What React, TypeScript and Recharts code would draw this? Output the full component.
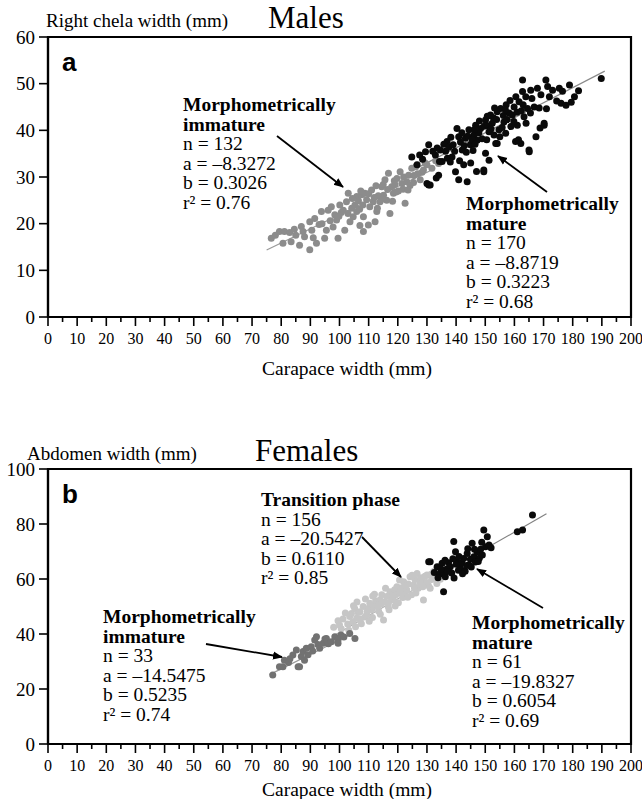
import React from 'react';
import { ScatterChart, Scatter, XAxis, YAxis, ReferenceLine, ReferenceArea } from 'recharts';

// ---------- DATA ----------
const xTicks = [0,5,10,15,20,25,30,35,40,45,50,55,60,65,70,75,80,85,90,95,100,105,110,115,120,125,130,135,140,145,150,155,160,165,170,175,180,185,190,195,200];
const maleYTicks = [0,10,20,30,40,50,60];
const femaleYTicks = [0,20,40,60,80,100];

// Males — morphometrically immature (carapace width, right chela width)
const maleImmature: [number, number][] = [
  [76.6,16.9],[78,17.5],[79.4,18.3],[81.1,18.3],[82.9,18.1],[80.6,15.8],[83.4,16.1],[84.5,18.8],[86.3,15.4],[86.9,19.4],
  [88,17.2],[89.8,14.4],[89.8,20.4],[90.5,18.6],[91.5,21.1],[92.1,15.8],[93,19.8],[93.8,22.6],[94.9,16.9],[95.5,18.6],
  [96.1,22.9],[96.8,20.6],[97.2,23.6],[98.4,21.9],[99,20.8],[99.5,16.9],[100.1,24],[100.6,22.4],[101.3,22.9],[101.8,18.6],
  [102.4,24.7],[103,26.5],[103.6,20.4],[104.2,23.3],[104.7,21.5],[105.3,24],[105.9,22.6],[105.9,25.8],[106.5,24.9],[107,19.6],
  [107.6,26.2],[108.2,18.3],[108.2,21.5],[108.7,26.5],[109.3,25.1],[109.9,19.7],[110.4,23.6],[111,27.2],[111.6,24.7],[112.2,20.4],
  [112.8,22.6],[113.3,26],[113.9,24.7],[114.5,27.9],[115.1,26.1],[115.6,29.4],[116.2,25],[116.8,30.8],[117.3,22.2],[117.9,27.9],
  [118.5,26.5],[119,28.4],[119.7,29.7],[120.2,27],[120.8,31.1],[121.4,28.6],[122,30],[122.5,24.4],[123.1,29],[123.7,30.4],
  [124.2,28.2],[124.8,31.9],[125.5,30.3],[126.2,32.2],[127.7,29.4],[128.3,31],[128.8,31.5],[129.4,33],[130,32.6],[131.7,31.9],
  [133,33.5],[134,32.9],[85,17.5],[87.5,18.3],[91,17],[94,20],[97.8,19.3],[99.8,21.6],[102.9,22.2],[104.4,25.4],
  [106.9,23.1],[108,24],[110,26.4],[111.9,25.6],[113,23.3],[114.9,25.3],[116.5,27.3],[118.2,24.8],[119.4,26.8],[121.8,27.4],
  [123.5,27.2],[125.4,28.8],[126.8,30.7],[118.8,29.2],[115,28.4],[112.5,28.1],[107.3,27],
];

// Males — morphometrically mature
const maleMature: [number, number][] = [
  [124.8,34.3],[126.6,32.6],[130.6,28.3],[134,30.4],[130.6,36.9],[130,28.6],[132.9,34.7],[134.6,35.8],[135.2,33.3],[136.9,37.6],
  [138.6,34.3],[139.8,31.1],[140.3,40.4],[140.9,38.6],[140.9,29.4],[142.1,35.8],[142.6,32.6],[143.2,38.3],[143.8,29],[144.4,40.1],
  [144.9,36.9],[146.1,39],[146.7,41.1],[147.2,37.9],[148.4,40.4],[149.5,31.1],[150.1,35.1],[150.1,42.2],[151.3,39.7],[151.8,43.3],
  [152.4,41.5],[153.6,37.2],[154.1,44],[154.7,40.1],[155.3,44.7],[156.4,41.8],[157,39.4],[158.2,43.7],[159.3,43.3],[159.9,45],
  [160.4,37.6],[161,41.1],[161.6,46.1],[162.2,37.2],[162.8,50.8],[162.8,48.3],[163.3,42.9],[163.9,47.2],[164.5,44.7],[165.1,35.4],
  [165.6,48.6],[166.8,45],[167.4,38.6],[167.9,49],[169.1,47.6],[170.2,41.1],[170.8,50.8],[171.4,49.4],[172,47.2],[173.1,48.6],
  [175.4,49],[176,45.8],[177.7,45.4],[178.9,49.7],[180.6,47.2],[189.8,51.1],[131.1,28.3],[149.5,31.5],[151.3,33.6],[154.1,37.2],
  [161.4,38],[165,35.8],[170.2,41.5],[133.5,36.2],[135.8,37],[136.4,35.5],[137.5,36.4],[138.2,38.5],[139,36.9],[139.5,35.5],
  [141.5,37.5],[142,39.5],[142.8,36.7],[143.5,35.3],[144,38.8],[145.5,38],[145.8,35.7],[146.5,37],[147.8,39.5],[148,42],
  [148.9,38.2],[149.6,40.9],[150.5,38],[151,41],[152,40.3],[152.8,42.7],[153,39],[153.9,42.3],[155.8,40.6],[156.2,43.2],
  [157.5,42.3],[158.8,40.8],[159.8,41.9],[160.9,43.9],[162.4,44.2],[163,45.5],[164,41.5],[165.5,43.7],[166,46.8],[168.5,44.8],
  [157.2,45.5],[155,38.6],[137,34],[134.3,33.3],[132,35.5],[128.5,33.8],[129.5,35.4],[127.5,34.7],[146.3,40.2],[150.7,43],
  [153.2,44.8],[156.9,44.4],[160.5,47.2],[158.5,46.4],[174.5,46.3],[171,44.6],[176.5,48.4],[182,48.5],[179.5,46],[168.8,40.5],
  [141.2,33.5],[145,33],[147,31.2],[138,33.2],[133.2,29.8],
];

// Females — morphometrically immature (carapace width, abdomen width)
const femaleImmature: [number, number][] = [
  [77.1,25.1],[79.4,28.1],[80.6,28.1],[81.1,30.5],[82.5,29.6],[84,32.4],[85.2,34.2],[85.8,28.1],[86.9,31.8],[87.5,33.6],
  [88.6,34.8],[89.2,32.5],[90.3,35.4],[91.5,37.8],[92.1,39],[92.6,36.2],[93.2,34.8],[94.4,36.6],[95,38.2],[95.5,38.4],
  [96.2,36.5],[97.2,37.2],[98.4,39],[99.5,37.8],[99.5,36.6],[100.5,39.6],[101.5,38.9],[103.5,40.2],[105.3,38.4],[83,31],
  [88,30.5],[90.8,33.8],[86.3,28.1],
];

// Females — transition phase
const femaleTransition: [number, number][] = [
  [98,42.5],[99.5,44.8],[100.6,41.9],[101.2,45.5],[102,47.6],[102.8,43.6],[103.5,46.4],[104.1,47.5],[104.6,44.5],[105.2,49.3],
  [105.9,45.7],[106.4,47.8],[107,48.1],[107.5,43.7],[108.1,50],[108.7,46.2],[109.3,46.9],[109.8,49.3],[110.4,51.2],[111,48.7],
  [111.3,46],[111.9,50.3],[112.4,52.1],[112.8,50.5],[113.4,48.4],[113.9,52.4],[114.5,54.3],[115.1,45.1],[115.5,51.6],[116.2,53.6],
  [116.7,50],[117.3,55.4],[117.8,52.9],[118.5,52.4],[118.9,56.1],[119.3,54.3],[119.7,57.2],[120.2,51.4],[120.8,54.8],[121.3,56.8],
  [122,59],[122.4,55.2],[123.1,56],[123.6,58.2],[124.2,60.8],[124.7,54.3],[125.4,57.8],[125.9,59.8],[126.6,62],[127,56.6],
  [127.6,58.7],[128.3,59.6],[128.8,52.4],[129.3,61],[130,61.5],[130.5,57.6],[131.1,56.6],[131.6,59.8],[132.3,62.7],[132.8,60.6],
  [133.4,58.4],[134,61.2],[110.2,44.6],[114,47.2],[117,48.8],[121.7,53.3],[119.1,50.2],[123.4,53.4],[126.2,54.9],[106,51.6],
  [108.9,52.7],[112,54.5],[115.8,56.6],[120.6,59.6],[124.9,61.4],[103.2,41.4],[100,43.3],[105.5,42.6],[113.1,49.9],[116.8,51.3],
  [118.1,53.7],[122.6,57.4],[127.9,60.5],[129.9,58.7],[131.4,61.7],[121,55.9],[114.3,50.9],[109.5,48.3],[107.2,45.5],[111.4,53.8],
  [104.8,50.3],[125.7,56.7],[128.6,57.2],[133.1,63.3],[134.6,59.9],
];

// Females — morphometrically mature
const femaleMature: [number, number][] = [
  [130.6,66.3],[131.1,66.3],[132.5,62.4],[133.5,64.5],[134.3,61.8],[135.2,65.7],[135.7,62],[135.7,55.4],[136.3,60.8],[136.8,63.6],
  [137.4,65.9],[138,64.5],[138.5,62.2],[139.2,73.6],[139.3,60.4],[139.8,69.9],[140.3,66.3],[140.8,63.2],[141.5,63.9],[141.9,65.9],
  [142.6,67.5],[143.1,62.8],[143.8,69.3],[144.4,65.1],[144.9,67.2],[145.5,73],[146.1,68.1],[146.6,66.2],[147.2,69.9],[148,67.6],
  [149,68.7],[149.5,77.8],[150.1,71.7],[150.7,75.4],[151.3,72.4],[152,71.4],[161,77.2],[162.8,77.8],[166.2,83.3],[137,62.7],
  [140,65.4],[142.2,61.9],[146.3,70.8],[148.4,70.8],[134.8,63.6],[138.9,67.4],[143.6,64.9],[145.2,64.4],[147.6,66.4],[136.2,66.8],
  [133.8,60.5],[141,68.2],[144,71],[148.8,73.4],
];

// Regression lines: [a, b, xStart, xEnd]
const maleImmatureFit = [-8.3272, 0.3026, 75, 132];
const maleMatureFit = [-8.8719, 0.3223, 127, 191];
const femaleImmatureFit = [-14.5475, 0.5235, 76, 104];
const femaleTransitionFit = [-20.5427, 0.6110, 98, 136];
const femaleMatureFit = [-19.8327, 0.6054, 132, 171];

// ---------- helpers ----------
const SERIF = '"Liberation Serif", "Times New Roman", serif';
const SANS = '"Liberation Sans", Arial, sans-serif';

const toPts = (arr: [number, number][]) => arr.map(([x, y]) => ({ x, y }));
const seg = (f: number[]) => [
  { x: f[2], y: f[0] + f[1] * f[2] },
  { x: f[3], y: f[0] + f[1] * f[3] },
];

const dot = (fill: string) => (p: any) => <circle cx={p.cx} cy={p.cy} r={3.5} fill={fill} />;

const XTick = (props: any) => {
  const { x, y, payload } = props;
  const v = payload.value;
  const major = v % 10 === 0;
  return (
    <g>
      <line x1={x} x2={x} y1={y} y2={y + (major ? 9 : 5)} stroke="#000" strokeWidth={1.6} />
      {major && (
        <text x={x} y={y + 27} textAnchor="middle" fontSize={16} fontFamily={SERIF} fill="#000">
          {v}
        </text>
      )}
    </g>
  );
};

const axisLine = { stroke: '#000', strokeWidth: 2.2 };

const FS = 19.5;

const Block = ({ x, y0, title, lines, r2 }: { x: number; y0: number; title: string[]; lines: string[]; r2: string }) => {
  const lh = 19.5;
  const all: React.ReactNode[] = [];
  let i = 0;
  title.forEach((t) => {
    all.push(
      <text key={'t' + i} x={x} y={y0 + i * lh} fontSize={FS} fontWeight="bold" fontFamily={SERIF} fill="#000">{t}</text>
    );
    i++;
  });
  lines.forEach((t) => {
    all.push(
      <text key={'l' + i} x={x} y={y0 + i * lh} fontSize={FS} fontFamily={SERIF} fill="#000">{t}</text>
    );
    i++;
  });
  all.push(
    <text key="r2" x={x} y={y0 + i * lh} fontSize={FS} fontFamily={SERIF} fill="#000">{'r\u00B2 = ' + r2}</text>
  );
  return <g>{all}</g>;
};

export default function App() {
  return (
    <div style={{ position: 'absolute', left: 0, top: 0, width: 642, height: 799, background: '#fff' }}>
      {/* Males */}
      <div style={{ position: 'absolute', left: 0, top: 0 }}>
        <ScatterChart width={642} height={400} margin={{ top: 37, right: 11, left: 0, bottom: 43 }}>
          <XAxis
            type="number" dataKey="x" domain={[0, 200]} ticks={xTicks} interval={0}
            tickLine={false} tickSize={0} tickMargin={0} tick={<XTick />} axisLine={axisLine} height={40}
            allowDataOverflow
          />
          <YAxis
            type="number" dataKey="y" domain={[0, 60]} ticks={maleYTicks} interval={0} width={48}
            tickSize={9} tickMargin={4} tickLine={{ stroke: '#000', strokeWidth: 1.6 }} axisLine={axisLine}
            tick={{ fontSize: 19, fill: '#000', fontFamily: SERIF }} allowDataOverflow
          />
          <ReferenceArea x1={0} x2={200} y1={0} y2={60} fill="none" stroke="#000" strokeWidth={2.2} ifOverflow="visible" />
          <ReferenceLine segment={seg(maleImmatureFit)} stroke="#9a9a9a" strokeWidth={1.2} />
          <ReferenceLine segment={seg(maleMatureFit)} stroke="#8a8a8a" strokeWidth={1.2} />
          <Scatter data={toPts(maleImmature)} shape={dot('#8c8c8c')} isAnimationActive={false} />
          <Scatter data={toPts(maleMature)} shape={dot('#0a0a0a')} isAnimationActive={false} />
        </ScatterChart>
      </div>
      {/* Females */}
      <div style={{ position: 'absolute', left: 0, top: 400 }}>
        <ScatterChart width={642} height={399} margin={{ top: 69, right: 11, left: 0, bottom: 15 }}>
          <XAxis
            type="number" dataKey="x" domain={[0, 200]} ticks={xTicks} interval={0}
            tickLine={false} tickSize={0} tickMargin={0} tick={<XTick />} axisLine={axisLine} height={40}
            allowDataOverflow
          />
          <YAxis
            type="number" dataKey="y" domain={[0, 100]} ticks={femaleYTicks} interval={0} width={48}
            tickSize={9} tickMargin={4} tickLine={{ stroke: '#000', strokeWidth: 1.6 }} axisLine={axisLine}
            tick={{ fontSize: 19, fill: '#000', fontFamily: SERIF }} allowDataOverflow
          />
          <ReferenceArea x1={0} x2={200} y1={0} y2={100} fill="none" stroke="#000" strokeWidth={2.2} ifOverflow="visible" />
          <ReferenceLine segment={seg(femaleImmatureFit)} stroke="#9a9a9a" strokeWidth={1.2} />
          <ReferenceLine segment={seg(femaleTransitionFit)} stroke="#b0b0b0" strokeWidth={1.2} />
          <ReferenceLine segment={seg(femaleMatureFit)} stroke="#808080" strokeWidth={1.2} />
          <Scatter data={toPts(femaleTransition)} shape={dot('#c6c6c6')} isAnimationActive={false} />
          <Scatter data={toPts(femaleImmature)} shape={dot('#727272')} isAnimationActive={false} />
          <Scatter data={toPts(femaleMature)} shape={dot('#0a0a0a')} isAnimationActive={false} />
        </ScatterChart>
      </div>
      {/* Text & annotations */}
      <svg width={642} height={799} style={{ position: 'absolute', left: 0, top: 0, pointerEvents: 'none' }}>
        <defs>
          <marker id="arr" viewBox="0 0 10 10" refX="9" refY="5" markerWidth="10" markerHeight="10" orient="auto" markerUnits="userSpaceOnUse">
            <path d="M0,1 L10,5 L0,9 Z" fill="#000" />
          </marker>
        </defs>
        {/* Males header */}
        <text x={46} y={27} fontSize={19} fontFamily={SERIF} fill="#000">Right chela width (mm)</text>
        <text x={268} y={28} fontSize={31} fontFamily={SERIF} fill="#000">Males</text>
        <text x={62} y={71} fontSize={26} fontWeight="bold" fontFamily={SANS} fill="#000">a</text>
        <text x={347} y={375} fontSize={19.5} fontFamily={SERIF} fill="#000" textAnchor="middle">Carapace width (mm)</text>

        <Block x={183} y0={111} title={['Morphometrically', 'immature']} lines={['n = 132', 'a = \u20138.3272', 'b = 0.3026']} r2="0.76" />
        <line x1={277} y1={136} x2={343} y2={187} stroke="#000" strokeWidth={1.8} markerEnd="url(#arr)" />
        <Block x={466} y0={210} title={['Morphometrically', 'mature']} lines={['n = 170', 'a = \u20138.8719', 'b = 0.3223']} r2="0.68" />
        <line x1={547} y1={192} x2={498} y2={156} stroke="#000" strokeWidth={1.8} markerEnd="url(#arr)" />

        {/* Females header */}
        <text x={27} y={460} fontSize={19} fontFamily={SERIF} fill="#000">Abdomen width (mm)</text>
        <text x={255} y={461} fontSize={31} fontFamily={SERIF} fill="#000">Females</text>
        <text x={62} y={503} fontSize={26} fontWeight="bold" fontFamily={SANS} fill="#000">b</text>
        <text x={347} y={796} fontSize={19.5} fontFamily={SERIF} fill="#000" textAnchor="middle">Carapace width (mm)</text>

        <Block x={261} y0={506} title={['Transition phase']} lines={['n = 156', 'a = \u201320.5427', 'b = 0.6110']} r2="0.85" />
        <line x1={362} y1={537} x2={401} y2={577} stroke="#000" strokeWidth={1.8} markerEnd="url(#arr)" />
        <Block x={103} y0={623} title={['Morphometrically', 'immature']} lines={['n = 33', 'a = \u201314.5475', 'b = 0.5235']} r2="0.74" />
        <line x1={206} y1={644} x2={282} y2={657} stroke="#000" strokeWidth={1.8} markerEnd="url(#arr)" />
        <Block x={472} y0={629} title={['Morphometrically', 'mature']} lines={['n = 61', 'a = \u201319.8327', 'b = 0.6054']} r2="0.69" />
        <line x1={543} y1={608} x2={477} y2={569} stroke="#000" strokeWidth={1.8} markerEnd="url(#arr)" />
      </svg>
    </div>
  );
}
